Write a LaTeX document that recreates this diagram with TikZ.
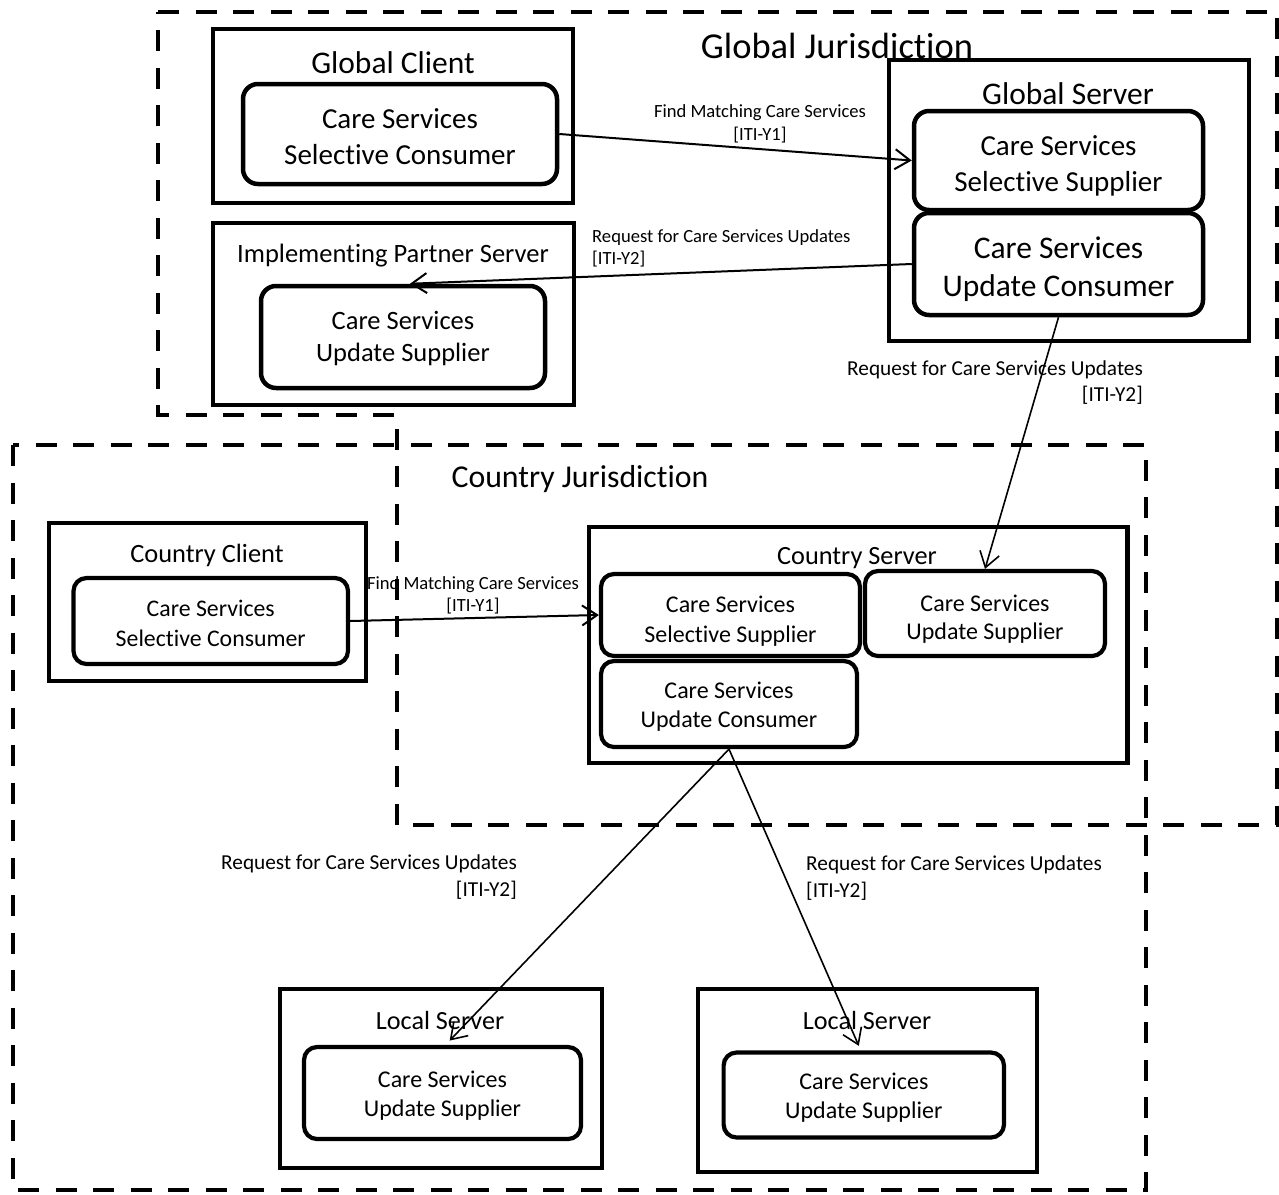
\documentclass[tikz,border=0pt]{standalone}
\usepackage{fontspec}
\setmainfont{Carlito}[Ligatures=CommonOff]
\usetikzlibrary{arrows.meta}
\newcommand{\fs}[2]{\fontsize{#1}{#2}\selectfont}
\newcommand{\lift}[1]{\rule{0pt}{#1pt}}
\begin{document}
\begin{tikzpicture}[x=1pt,y=-1pt,
  jur/.style={line width=4.5pt, dash pattern=on 21pt off 16.5pt},
  outerbox/.style={draw, line width=4.5pt, inner sep=0pt},
  cbox/.style={draw, line width=4.5pt, rounded corners=15pt, inner sep=0pt, align=center},
  smallbox/.style={draw, line width=4.2pt, rounded corners=13pt, inner sep=0pt, align=center},
  title/.style={inner sep=0pt},
  flow/.style={line width=2pt, -{Straight Barb[length=15pt,width=20pt]}},
  thinflow/.style={line width=1.6pt, -{Straight Barb[length=15pt,width=20pt]}},
  lbl/.style={inner sep=0pt}
]
\useasboundingbox (0,0) rectangle (1279,1194);

% jurisdictions
\draw[jur] (158,12) -- (1277,12) -- (1277,825) -- (397,825) -- (397,415) -- (158,415) -- cycle;
\draw[jur] (13,445) rectangle (1146,1190);
\node[title, font=\fs{36.5}{40}] (gj) at (837,46) {Global Jurisdiction};
\node[title, font=\fs{31.8}{36}] (cj) at (580,479) {Country Jurisdiction};

% Global Client
\node[outerbox, minimum width=360pt, minimum height=174pt] (gc) at (393,116) {};
\node[title, font=\fs{31.5}{36}] (gct) at (393,63) {Global Client};
\node[cbox, minimum width=314pt, minimum height=100pt, font=\fs{29}{36}] (gcin) at (400,134) {\lift{25}Care Services\\Selective Consumer};

% Implementing Partner Server
\node[outerbox, minimum width=361pt, minimum height=182pt] (ip) at (393.5,314) {};
\node[title, font=\fs{26.5}{30}] (ipt) at (393,256) {Implementing Partner Server};
\node[cbox, minimum width=284pt, minimum height=102pt, font=\fs{26.5}{32}] (ipin) at (403,337) {\lift{21.5}Care Services\\Update Supplier};

% Global Server
\node[outerbox, minimum width=360pt, minimum height=281pt] (gs) at (1069,200.5) {};
\node[title, font=\fs{31.5}{36}] (gst) at (1068,94) {Global Server};
\node[cbox, minimum width=289pt, minimum height=99pt, font=\fs{29}{36}] (gssel) at (1058.5,160.5) {\lift{31}Care Services\\Selective Supplier};
\node[cbox, minimum width=289pt, minimum height=102pt, font=\fs{31.5}{38}] (gsupd) at (1058.5,264) {\lift{33}Care Services\\Update Consumer};

% Country Client
\node[outerbox, line width=4.2pt, minimum width=317pt, minimum height=158pt] (cc) at (207.5,602) {};
\node[title, font=\fs{26.4}{30}] (cct) at (207,555) {Country Client};
\node[smallbox, minimum width=274.5pt, minimum height=86pt, font=\fs{23.8}{30}] (ccin) at (210.75,621) {\lift{21.7}Care Services\\Selective Consumer};

% Country Server
\node[outerbox, line width=4.2pt, minimum width=538.5pt, minimum height=236pt] (cs) at (858.25,645) {};
\node[title, font=\fs{26.3}{30}] (cst) at (857,558) {Country Server};
\node[smallbox, minimum width=259pt, minimum height=82pt, font=\fs{24}{30}] (cssel) at (730.5,615) {\lift{29}Care Services\\Selective Supplier};
\node[smallbox, minimum width=240pt, minimum height=85pt, font=\fs{24}{28}] (csus) at (985,613.5) {\lift{27.5}Care Services\\Update Supplier};
\node[smallbox, minimum width=256pt, minimum height=86pt, font=\fs{24}{29}] (csuc) at (729,704) {\lift{21.8}Care Services\\Update Consumer};

% Local Servers
\node[outerbox, line width=4.2pt, minimum width=322pt, minimum height=179pt] (ls1) at (441,1078.5) {};
\node[title, font=\fs{26.2}{30}] (ls1t) at (440,1020) {Local Server};
\node[smallbox, minimum width=277pt, minimum height=92pt, font=\fs{24}{29}] (ls1in) at (442.5,1093) {\lift{21.8}Care Services\\Update Supplier};
\node[outerbox, line width=4.2pt, minimum width=339pt, minimum height=183pt] (ls2) at (867.5,1080.5) {};
\node[title, font=\fs{26.2}{30}] (ls2t) at (867,1020) {Local Server};
\node[smallbox, minimum width=280.4pt, minimum height=85pt, font=\fs{24}{29}] (ls2in) at (863.8,1095) {\lift{22}Care Services\\Update Supplier};

% connectors
\draw[flow] (gcin.east) -- (gssel.west);
\draw[flow] (gsupd.west) -- ([xshift=7pt]ipin.north);
\draw[thinflow] (gsupd.south) -- (csus.north);
\draw[flow] (ccin.east) -- (cssel.west);
\draw[thinflow, shorten >=6pt] (csuc.south) -- ([xshift=3pt]ls1in.north);
\draw[thinflow, shorten >=5pt] (csuc.south) -- ([xshift=-3pt]ls2in.north);

% connector labels
\node[lbl, font=\fs{18.6}{23}, align=center] (l1) at (760,123.5) {Find Matching Care Services\\{}[ITI-Y1]};
\node[lbl, font=\fs{18.6}{22}, align=left, anchor=west] (l2) at (592,248) {Request for Care Services Updates\\{}[ITI-Y2]};
\node[lbl, font=\fs{21.3}{26}, align=right, anchor=east] (l3) at (1143,383) {Request for Care Services Updates\\{}[ITI-Y2]};
\node[lbl, font=\fs{18.6}{22}, align=center] (l4) at (473,595) {Find Matching Care Services\\{}[ITI-Y1]};
\node[lbl, font=\fs{21.3}{27}, align=right, anchor=east] (l5) at (517,877) {Request for Care Services Updates\\{}[ITI-Y2]};
\node[lbl, font=\fs{21.3}{27}, align=left, anchor=west] (l6) at (806,878) {Request for Care Services Updates\\{}[ITI-Y2]};
\end{tikzpicture}
\end{document}
